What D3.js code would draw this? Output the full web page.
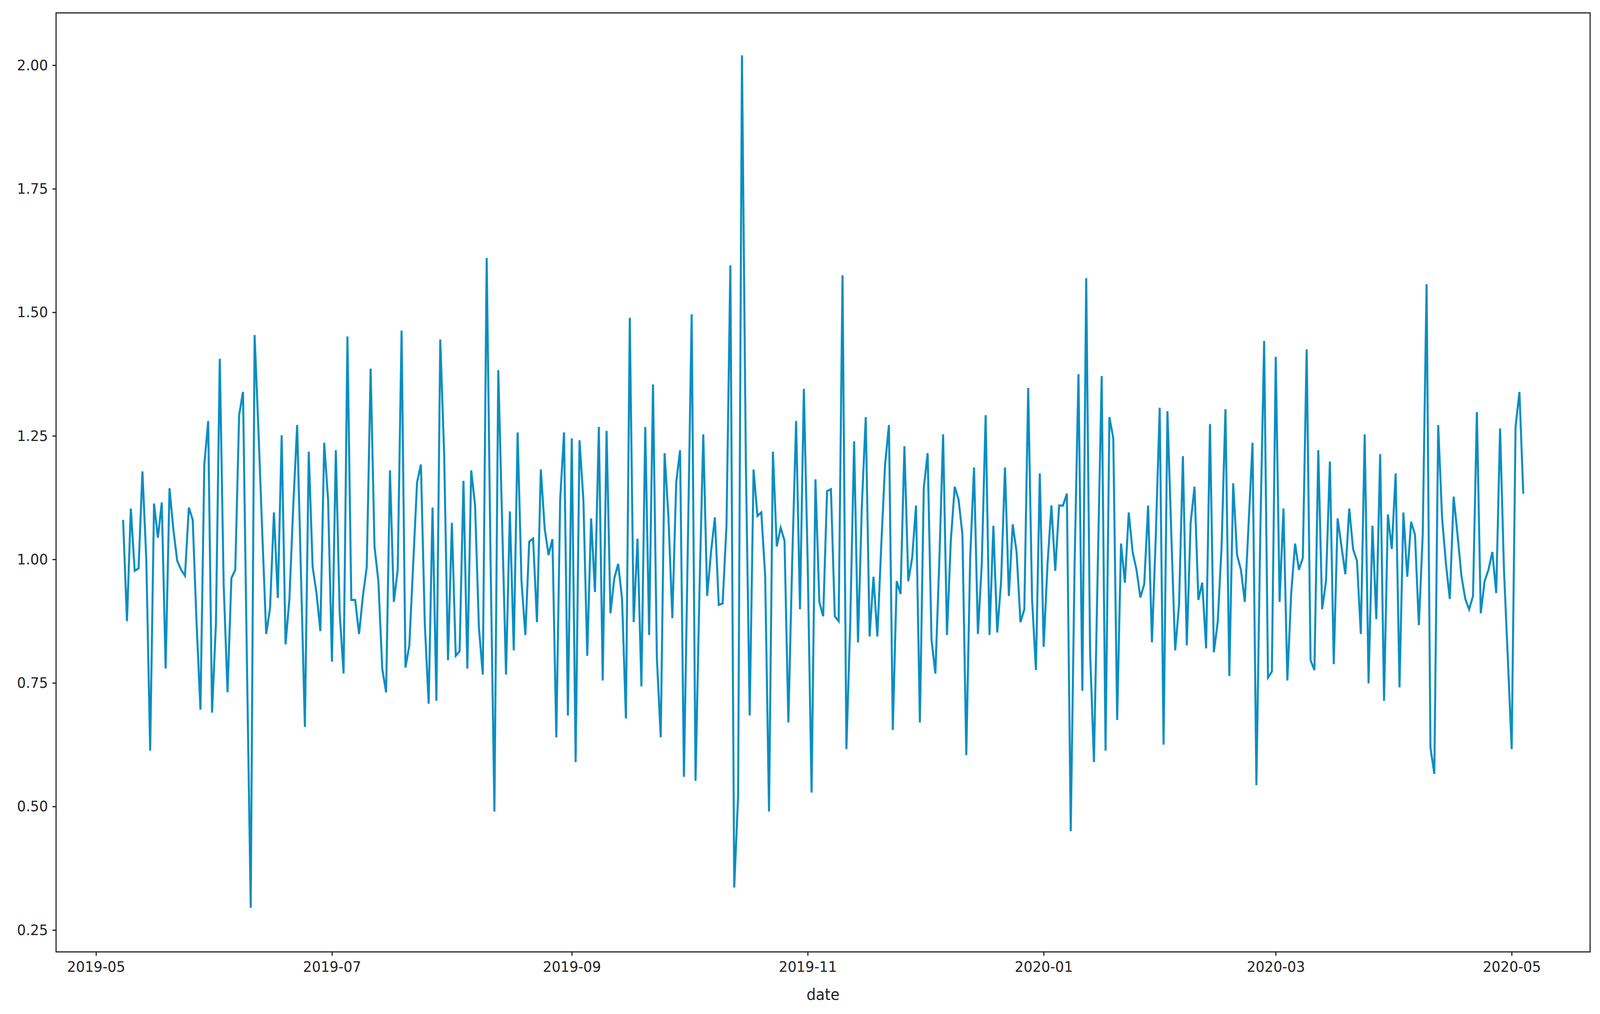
<!DOCTYPE html>
<html><head><meta charset="utf-8">
<script src="https://cdn.jsdelivr.net/npm/d3@7"></script>
<style>html,body{margin:0;padding:0;background:#fff;overflow:hidden}svg{display:block}text{font-family:"DejaVu Sans",sans-serif}</style>
</head><body>
<script>
const startDate = "2019-05-08";
const values = [
1.08,0.875,1.103,0.977,0.982,1.178,1.0,0.613,1.113,1.044,1.115,0.779,1.144,1.06,0.997,0.979,0.967,1.105,1.08,0.87,0.696,1.192,1.28,0.69,0.87,1.406,0.95,0.731,0.962,0.979,1.292,1.339,
0.80,0.295,1.454,1.26,1.05,0.849,0.902,1.095,0.922,1.251,0.828,0.92,1.109,1.272,0.967,0.661,1.218,0.985,0.932,0.855,1.236,1.12,0.793,1.221,0.891,0.769,1.451,0.918,0.918,0.849,0.926,0.985,
1.386,1.026,0.956,0.779,0.731,1.18,0.914,0.979,1.463,0.781,0.826,0.99,1.156,1.192,0.87,0.708,1.105,0.714,1.445,1.215,0.796,1.074,0.805,0.814,1.159,0.779,1.18,1.109,0.861,0.767,1.61,1.0,0.49,
1.383,1.074,0.767,1.097,0.816,1.257,0.956,0.847,1.036,1.042,0.873,1.182,1.062,1.009,1.041,0.64,1.121,1.257,0.684,1.245,0.59,1.241,1.121,0.805,1.083,0.934,1.268,0.755,1.26,0.891,0.962,0.991,
0.92,0.678,1.489,0.873,1.042,0.743,1.268,0.847,1.354,0.80,0.64,1.215,1.085,0.881,1.156,1.221,0.56,1.026,1.496,0.552,0.932,1.253,0.926,1.015,1.085,0.908,0.911,1.068,1.595,0.336,0.52,2.02,
1.2,0.684,1.182,1.088,1.095,0.967,0.49,1.218,1.026,1.064,1.038,0.67,1.0,1.28,0.899,1.345,0.99,0.528,1.162,0.914,0.885,1.138,1.142,0.885,0.875,1.575,0.616,0.873,1.239,0.832,1.109,1.288,0.844,
0.965,0.844,1.026,1.192,1.272,0.655,0.956,0.93,1.229,0.956,1.003,1.109,0.67,1.144,1.215,0.838,0.769,0.991,1.253,0.847,1.038,1.147,1.121,1.05,0.604,1.003,1.186,0.849,0.991,1.292,0.847,1.068,
0.852,0.956,1.186,0.926,1.071,1.015,0.873,0.899,1.347,0.92,0.776,1.174,0.823,0.991,1.109,0.977,1.109,1.109,1.133,0.45,0.991,1.375,0.734,1.569,0.814,0.59,0.991,1.371,0.613,1.288,1.245,0.675,
1.032,0.953,1.095,1.015,0.979,0.923,0.95,1.109,0.832,1.05,1.307,0.625,1.3,1.05,0.816,0.908,1.209,0.826,1.074,1.147,0.918,0.953,0.82,1.274,0.812,0.873,1.026,1.304,0.764,1.154,1.009,0.979,0.914,
1.074,1.236,0.543,1.05,1.442,0.761,0.773,1.41,0.914,1.103,0.755,0.932,1.032,0.979,1.003,1.425,0.796,0.776,1.221,0.899,0.956,1.198,0.788,1.083,1.026,0.97,1.103,1.021,0.997,0.849,1.253,0.749,1.068,
0.879,1.213,0.714,1.091,1.021,1.174,0.741,1.095,0.965,1.076,1.05,0.867,1.05,1.557,0.619,0.566,1.272,1.085,0.991,0.92,1.127,1.05,0.967,0.92,0.899,0.926,1.298,0.891,0.956,0.979,1.015,0.932,
1.265,0.98,0.80,0.616,1.268,1.339,1.133
];
const xTickLabels = ["2019-05","2019-07","2019-09","2019-11","2020-01","2020-03","2020-05"];
const yTicks = [0.25,0.50,0.75,1.00,1.25,1.50,1.75,2.00];
const xLabel = "date";

const W=4366,H=2596, L=153,R=4339,T=33,B=2437;
const parse=d3.utcParse("%Y-%m-%d"), parseM=d3.utcParse("%Y-%m");
const s0=parse(startDate);
const data=values.map((v,i)=>({d:d3.utcDay.offset(s0,i),v}));
const x=d3.scaleUtc().domain([parseM("2019-05"),parseM("2020-05")]).range([262,4125]);
const y=d3.scaleLinear().domain([0.25,2.0]).range([2381,167]);
const svg=d3.select("body").append("svg").attr("viewBox",`0 0 ${W} ${H}`)
  .attr("preserveAspectRatio","none").style("width","100vw").style("height","100vh");
svg.append("rect").attr("width",W).attr("height",H).attr("fill","#fff");
svg.append("defs").append("clipPath").attr("id","c").append("rect").attr("x",L).attr("y",T).attr("width",R-L).attr("height",B-T);
svg.append("path").datum(data).attr("clip-path","url(#c)").attr("fill","none").attr("stroke","#0a8ec2").attr("stroke-width",5.5).attr("stroke-linejoin","miter")
 .attr("d",d3.line().x(d=>x(d.d)).y(d=>y(d.v)));
svg.append("rect").attr("x",L).attr("y",T).attr("width",R-L).attr("height",B-T).attr("fill","none").attr("stroke","#222").attr("stroke-width",3);
const xa=svg.append("g").attr("transform",`translate(0,${B})`).call(d3.axisBottom(x).tickValues(xTickLabels.map(parseM)).tickFormat(d3.utcFormat("%Y-%m")).tickSize(10).tickPadding(14));
const ya=svg.append("g").attr("transform",`translate(${L},0)`).call(d3.axisLeft(y).tickValues(yTicks).tickFormat(d3.format(".2f")).tickSize(10).tickPadding(12));
[xa,ya].forEach(a=>{a.select(".domain").remove();a.selectAll("line").attr("stroke","#222").attr("stroke-width",3);a.selectAll("text").attr("font-size",38).attr("fill","#222").attr("font-family","DejaVu Sans");});
svg.append("text").attr("x",(L+R)/2).attr("y",2560).attr("text-anchor","middle").attr("font-size",40).attr("fill","#222").text(xLabel);
</script>
</body></html>
